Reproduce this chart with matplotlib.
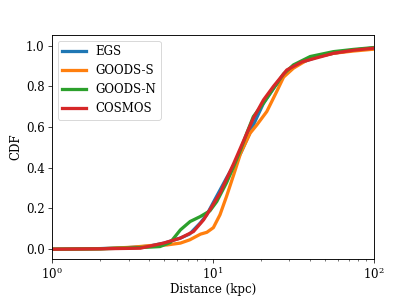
import numpy as np
import matplotlib

matplotlib.use("Agg")
import matplotlib.pyplot as plt

plt.rcParams["font.family"] = "serif"
plt.rcParams["font.size"] = 13
plt.rcParams["xtick.major.size"] = 4.4
plt.rcParams["ytick.major.size"] = 4.4
plt.rcParams["xtick.minor.size"] = 2.5
plt.rcParams["axes.linewidth"] = 1.0

# distance (kpc) and CDF values
egs_d = [1.0, 2.0, 3.0, 4.0, 5.0, 6.3, 7.2, 8.4, 9.2, 10.1, 12.2, 14.9, 17.9,
         20.7, 24.4, 29.0, 35.0, 45.0, 56.3, 75.0, 100.0]
egs_cdf = [0.0, 0.003, 0.008, 0.015, 0.03, 0.055, 0.075, 0.13, 0.17, 0.23,
           0.35, 0.47, 0.61, 0.717, 0.80, 0.87, 0.915, 0.945, 0.962, 0.978, 0.988]

goodss_d = [1.0, 2.0, 3.2, 4.1, 5.2, 6.3, 7.2, 8.4, 9.2, 10.1, 11.1, 12.2,
            13.5, 14.9, 17.1, 18.8, 21.7, 25.0, 27.6, 31.8, 40.4, 56.3, 75.0, 100.0]
goodss_cdf = [0.0, 0.002, 0.01, 0.018, 0.021, 0.03, 0.046, 0.074, 0.083, 0.106,
              0.169, 0.26, 0.365, 0.47, 0.57, 0.61, 0.676, 0.774, 0.845, 0.889,
              0.938, 0.962, 0.973, 0.982]

goodsn_d = [1.0, 2.0, 3.0, 4.0, 4.7, 5.45, 6.3, 7.24, 8.36, 9.6, 10.6, 12.2,
            13.5, 14.9, 16.3, 17.9, 20.7, 23.9, 27.6, 31.8, 40.4, 56.3, 75.0, 100.0]
goodsn_cdf = [0.0, 0.002, 0.006, 0.01, 0.013, 0.033, 0.095, 0.136, 0.16, 0.188,
              0.234, 0.327, 0.406, 0.488, 0.57, 0.651, 0.717, 0.79, 0.861, 0.905,
              0.946, 0.97, 0.981, 0.99]

cosmos_d = [1.0, 2.0, 3.55, 4.95, 6.28, 7.6, 8.77, 9.6, 11.1, 13.5, 17.9,
            20.7, 23.9, 28.9, 36.0, 56.3, 75.0, 100.0]
cosmos_cdf = [0.0, 0.002, 0.005, 0.03, 0.054, 0.087, 0.144, 0.193, 0.275, 0.42,
              0.643, 0.733, 0.80, 0.88, 0.92, 0.962, 0.977, 0.987]

fig, ax = plt.subplots(figsize=(415 / 65, 297 / 65), dpi=65)
fig.subplots_adjust(left=0.125, right=0.9, top=0.883, bottom=0.128)

lw = 3.6
ax.plot(egs_d, egs_cdf, linewidth=lw, label="EGS")
ax.plot(goodss_d, goodss_cdf, linewidth=lw, label="GOODS-S")
ax.plot(goodsn_d, goodsn_cdf, linewidth=lw, label="GOODS-N")
ax.plot(cosmos_d, cosmos_cdf, linewidth=lw, label="COSMOS")

ax.set_xscale("log")
ax.set_xlim(1, 100)
ax.set_ylim(-0.048, 1.053)
ax.set_xlabel("Distance (kpc)", labelpad=1)
ax.set_ylabel("CDF")
ax.legend(loc="upper left")

plt.savefig("out.png", dpi=65)
plt.close()
